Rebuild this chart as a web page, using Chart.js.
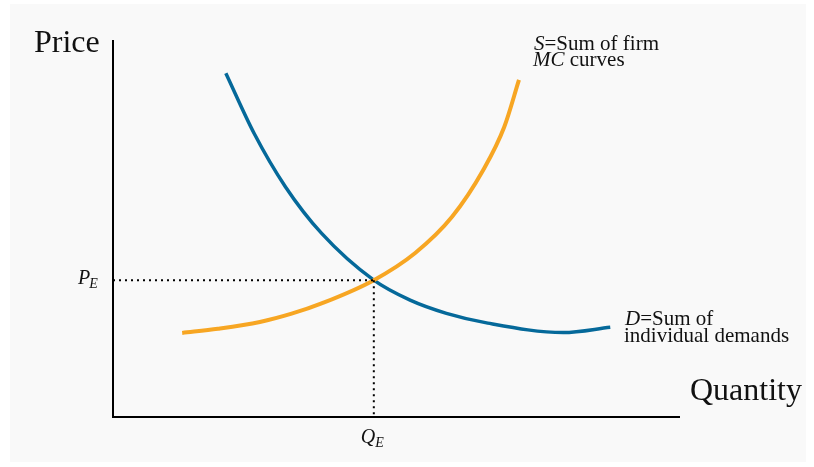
<!DOCTYPE html>
<html>
<head>
<meta charset="utf-8">
<script src="https://cdn.jsdelivr.net/npm/chart.js@4"></script>
<style>
html,body{margin:0;padding:0;background:#ffffff;}
#wrap{position:relative;width:814px;height:467px;}
</style>
</head>
<body>
<div id="wrap"><canvas id="c" width="814" height="467"></canvas></div>
<script>
// Data (quantity 0-100, price 0-100)
const demandQ = [19.9, 24.9, 30.4, 36.8, 46.0, 52.4, 58.8, 66.1, 79.4, 87.7];
const demandP = [91.2, 75.2, 61.1, 48.7, 36.3, 31.0, 27.5, 24.9, 22.4, 23.8];
const supplyQ = [12.2, 18.5, 25.9, 31.5, 36.9, 46.0, 53.3, 59.8, 65.3, 69.0, 71.6];
const supplyP = [22.3, 23.4, 25.2, 27.4, 30.2, 36.3, 43.5, 53.1, 65.5, 76.9, 89.4];
const eqQ = 46.0;
const eqP = 36.3;
const labels = {
  yTitle: "Price", xTitle: "Quantity",
  pe: ["P", "E"], qe: ["Q", "E"],
  s1: ["S", "=Sum of firm"], s2: ["MC", " curves"],
  d1: ["D", "=Sum of"], d2: "individual demands"
};

const toPts = (xs, ys) => xs.map((x, i) => ({x: x, y: ys[i]}));
const SERIF = '"Liberation Serif", "Times New Roman", serif';

const decor = {
  id: 'decor',
  beforeDraw(chart) {
    const ctx = chart.ctx;
    ctx.save();
    ctx.fillStyle = '#f9f9f9';
    ctx.fillRect(10, 4, 796, 458);
    ctx.restore();
  },
  afterDatasetsDraw(chart) {
    const ctx = chart.ctx, a = chart.chartArea;
    const xs = chart.scales.x;
    ctx.save();
    ctx.strokeStyle = '#000';
    ctx.lineWidth = 2;
    ctx.beginPath();
    ctx.moveTo(a.left, a.top);
    ctx.lineTo(a.left, a.bottom);
    ctx.lineTo(a.right, a.bottom);
    ctx.stroke();

    ctx.fillStyle = '#111';
    ctx.textBaseline = 'alphabetic';
    ctx.textAlign = 'left';
    ctx.font = '32px ' + SERIF;
    ctx.fillText(labels.yTitle, 34, 52);
    ctx.fillText(labels.xTitle, 690, 400);

    // PE
    ctx.font = 'italic 20px ' + SERIF;
    ctx.fillText(labels.pe[0], 78, 284);
    let w = ctx.measureText(labels.pe[0]).width;
    ctx.font = 'italic 14px ' + SERIF;
    ctx.fillText(labels.pe[1], 78 + w - 1, 288);

    // QE
    const qx = xs.getPixelForValue(eqQ);
    ctx.font = 'italic 20px ' + SERIF;
    w = ctx.measureText(labels.qe[0]).width;
    ctx.fillText(labels.qe[0], qx - 13, 443);
    ctx.font = 'italic 14px ' + SERIF;
    ctx.fillText(labels.qe[1], qx - 13 + w, 447);

    const line = (parts, x, y) => {
      ctx.font = 'italic 21px ' + SERIF;
      ctx.fillText(parts[0], x, y);
      const ww = ctx.measureText(parts[0]).width;
      ctx.font = '21px ' + SERIF;
      ctx.fillText(parts[1], x + ww, y);
    };
    line(labels.s1, 534, 50);
    line(labels.s2, 533, 66);
    line(labels.d1, 625, 325);
    ctx.font = '21px ' + SERIF;
    ctx.fillText(labels.d2, 624, 342);
    ctx.restore();
  }
};

new Chart(document.getElementById('c'), {
  type: 'line',
  data: {
    datasets: [
      {
        data: [{x: 0, y: eqP}, {x: eqQ, y: eqP}],
        borderColor: '#000', borderWidth: 2, borderDash: [2, 4],
        pointRadius: 0, tension: 0, fill: false
      },
      {
        data: [{x: eqQ, y: eqP}, {x: eqQ, y: 0}],
        borderColor: '#000', borderWidth: 2, borderDash: [2, 4],
        pointRadius: 0, tension: 0, fill: false
      },
      {
        data: toPts(supplyQ, supplyP),
        borderColor: '#f7a623', borderWidth: 4,
        pointRadius: 0, cubicInterpolationMode: 'monotone', fill: false
      },
      {
        data: toPts(demandQ, demandP),
        borderColor: '#05699a', borderWidth: 3.5,
        pointRadius: 0, cubicInterpolationMode: 'monotone', fill: false
      }
    ]
  },
  options: {
    responsive: false,
    animation: false,
    devicePixelRatio: 1,
    layout: {padding: {left: 113, right: 134, top: 40, bottom: 50}},
    plugins: {legend: {display: false}, tooltip: {enabled: false}},
    scales: {
      x: {type: 'linear', min: 0, max: 100, display: false},
      y: {type: 'linear', min: 0, max: 100, display: false}
    },
    elements: {line: {borderCapStyle: 'butt'}}
  },
  plugins: [decor]
});
</script>
</body>
</html>
